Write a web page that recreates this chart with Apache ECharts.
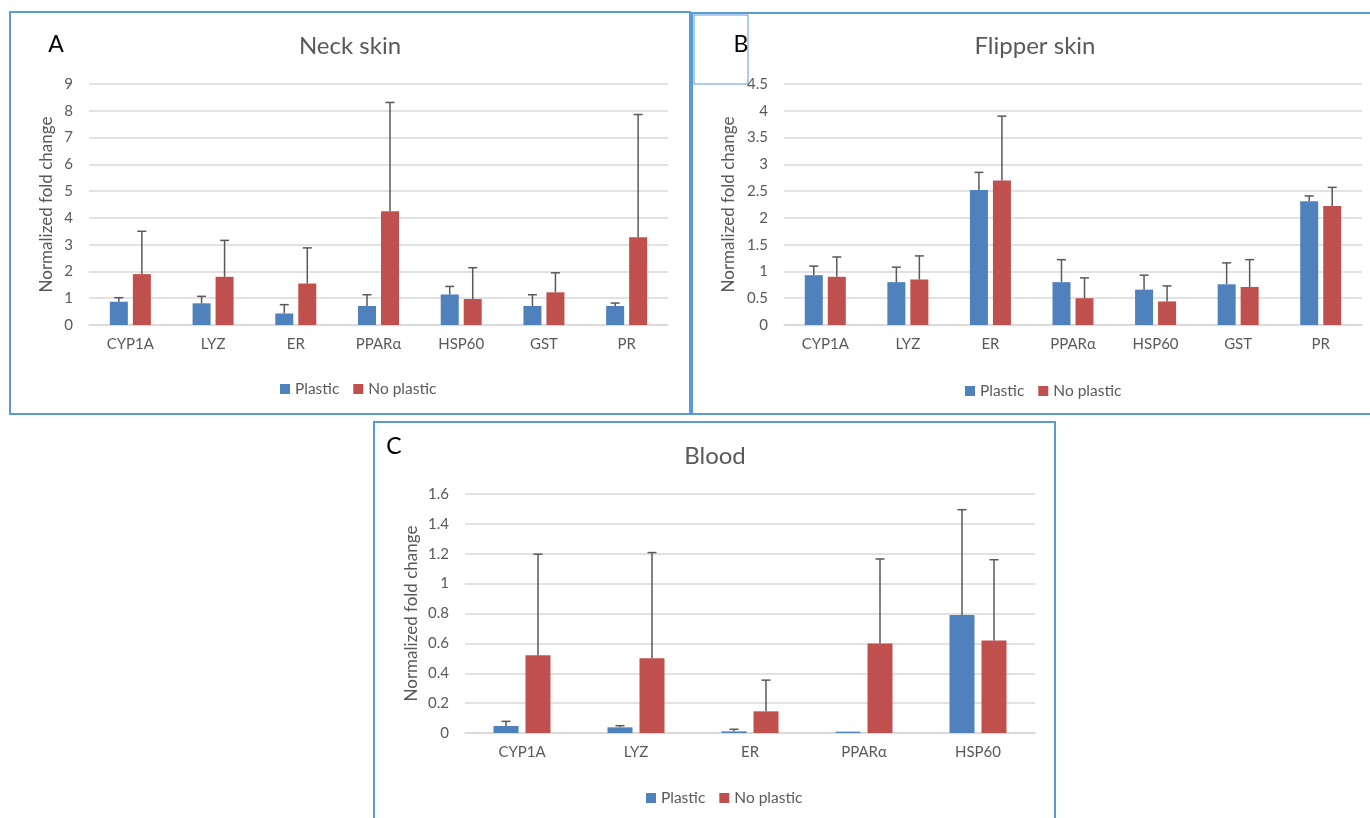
<!DOCTYPE html>
<html>
<head>
<meta charset="utf-8">
<script src="https://cdn.jsdelivr.net/npm/echarts@6/dist/echarts.min.js"></script>
<style>
html,body{margin:0;padding:0;background:#fff;}
#main{width:1370px;height:818px;}
</style>
</head>
<body>
<div id="main"></div>
<script>
// ---- Data ----
const skinCategories = ['CYP1A', 'LYZ', 'ER', 'PPARα', 'HSP60', 'GST', 'PR'];
const bloodCategories = ['CYP1A', 'LYZ', 'ER', 'PPARα', 'HSP60'];
const seriesNames = ['Plastic', 'No plastic'];

// Neck skin (A)
const neckPlastic = [0.87, 0.81, 0.43, 0.71, 1.14, 0.71, 0.71];
const neckPlasticErr = [0.15, 0.26, 0.33, 0.42, 0.30, 0.42, 0.11];
const neckNoPlastic = [1.90, 1.80, 1.55, 4.25, 0.97, 1.22, 3.28];
const neckNoPlasticErr = [1.60, 1.36, 1.33, 4.06, 1.17, 0.73, 4.58];

// Flipper skin (B)
const flipperPlastic = [0.93, 0.80, 2.52, 0.80, 0.66, 0.76, 2.31];
const flipperPlasticErr = [0.17, 0.28, 0.33, 0.42, 0.27, 0.40, 0.10];
const flipperNoPlastic = [0.90, 0.85, 2.70, 0.50, 0.44, 0.71, 2.22];
const flipperNoPlasticErr = [0.37, 0.44, 1.20, 0.38, 0.29, 0.51, 0.35];

// Blood (C)
const bloodPlastic = [0.047, 0.038, 0.011, 0.009, 0.79];
const bloodPlasticErr = [0.031, 0.011, 0.014, 0, 0.705];
const bloodNoPlastic = [0.52, 0.50, 0.145, 0.60, 0.62];
const bloodNoPlasticErr = [0.677, 0.708, 0.209, 0.565, 0.54];

// Axis settings
const neckAxis = {min: 0, max: 9, interval: 1};
const flipperAxis = {min: 0, max: 4.5, interval: 0.5};
const bloodAxis = {min: 0, max: 1.6, interval: 0.2};

const titles = ['Neck skin', 'Flipper skin', 'Blood'];
const panelLetters = ['A', 'B', 'C'];
const yName = 'Normalized fold change';

// ---- Styles ----
const BLUE = '#4F81BD';
const RED = '#C0504D';
const GREY = '#595959';
const GRID = '#D9D9D9';
const FONT = 'Lato, "Liberation Sans", sans-serif';

const panels = [
  {cats: skinCategories, p: neckPlastic, pe: neckPlasticErr, n: neckNoPlastic, ne: neckNoPlasticErr, axis: neckAxis,
   grid: {left: 89, top: 84, width: 579, height: 241}, barWidth: 18, gap: 5, nameGap: 34},
  {cats: skinCategories, p: flipperPlastic, pe: flipperPlasticErr, n: flipperNoPlastic, ne: flipperNoPlasticErr, axis: flipperAxis,
   grid: {left: 784, top: 84, width: 578, height: 241}, barWidth: 18, gap: 5, nameGap: 47},
  {cats: bloodCategories, p: bloodPlastic, pe: bloodPlasticErr, n: bloodNoPlastic, ne: bloodNoPlasticErr, axis: bloodAxis,
   grid: {left: 465, top: 494, width: 570, height: 239}, barWidth: 25, gap: 7, nameGap: 45}
];

const grids = [], xAxes = [], yAxes = [], series = [];
panels.forEach((pn, i) => {
  grids.push(Object.assign({containLabel: false}, pn.grid));
  xAxes.push({
    type: 'category', gridIndex: i, data: pn.cats,
    axisTick: {show: false},
    axisLine: {lineStyle: {color: GRID, width: 1.5}},
    axisLabel: {color: GREY, fontSize: 15, fontFamily: FONT, margin: 12}
  });
  yAxes.push({
    type: 'value', gridIndex: i, min: pn.axis.min, max: pn.axis.max, interval: pn.axis.interval,
    name: yName, nameLocation: 'middle', nameGap: pn.nameGap,
    nameTextStyle: {color: GREY, fontSize: 17, fontFamily: FONT},
    axisLine: {show: false}, axisTick: {show: false},
    axisLabel: {color: GREY, fontSize: 15, fontFamily: FONT, margin: 16},
    splitLine: {lineStyle: {color: GRID, width: 1.5}}
  });
  const off = (pn.barWidth + pn.gap) / 2;
  const barGap = (pn.gap / pn.barWidth * 100) + '%';
  [[pn.p, BLUE, seriesNames[0]], [pn.n, RED, seriesNames[1]]].forEach(([vals, color, name]) => {
    series.push({
      type: 'bar', name: name, xAxisIndex: i, yAxisIndex: i, data: vals,
      barWidth: pn.barWidth, barGap: barGap,
      itemStyle: {color: color}, z: 2, silent: true
    });
  });
  [[pn.p, pn.pe, -off], [pn.n, pn.ne, off]].forEach(([vals, errs, dx]) => {
    series.push({
      type: 'custom', name: 'err', xAxisIndex: i, yAxisIndex: i, z: 3, silent: true,
      data: vals.map((v, k) => [k, v, v + errs[k], errs[k]]),
      renderItem: function (params, api) {
        if (api.value(3) <= 0) return null;
        const base = api.coord([api.value(0), api.value(1)]);
        const top = api.coord([api.value(0), api.value(2)]);
        const x = base[0] + dx;
        const cap = 4.5;
        const st = {stroke: GREY, lineWidth: 1.5};
        return {
          type: 'group', children: [
            {type: 'line', shape: {x1: x, y1: base[1], x2: x, y2: top[1]}, style: st},
            {type: 'line', shape: {x1: x - cap, y1: top[1], x2: x + cap, y2: top[1]}, style: st}
          ]
        };
      }
    });
  });
});

const legendBase = {
  data: seriesNames, icon: 'rect', itemWidth: 10, itemHeight: 10, itemGap: 14, itemStyle: {borderWidth: 0},
  textStyle: {color: GREY, fontSize: 15.5, fontFamily: FONT}, selectedMode: false
};
const legends = [
  Object.assign({left: 275, top: 376}, legendBase),
  Object.assign({left: 960, top: 378}, legendBase),
  Object.assign({left: 641, top: 785}, legendBase)
];

const BORDER = '#5B9BD5';
const textG = (t, x, y, size, color) => ({
  type: 'text', x: x, y: y, z: 10,
  style: {text: t, x: 0, y: 0, textAlign: 'center', textVerticalAlign: 'middle', fill: color, fontSize: size, fontFamily: FONT}
});
const graphic = [
  {type: 'rect', shape: {x: 10, y: 12, width: 680, height: 402}, style: {fill: 'none', stroke: BORDER, lineWidth: 2}, z: 0},
  {type: 'rect', shape: {x: 692, y: 13, width: 690, height: 401}, style: {fill: 'none', stroke: BORDER, lineWidth: 2}, z: 0},
  {type: 'rect', shape: {x: 694, y: 15, width: 54, height: 69}, style: {fill: 'none', stroke: BORDER, lineWidth: 1}, z: 0},
  {type: 'rect', shape: {x: 374, y: 422, width: 681, height: 410}, style: {fill: '#fff', stroke: BORDER, lineWidth: 2}, z: 0},
  textG(titles[0], 350, 46, 24, GREY),
  textG(titles[1], 1035, 46, 24, GREY),
  textG(titles[2], 715, 456, 24, GREY),
  textG(panelLetters[0], 56, 45, 23, '#000'),
  textG(panelLetters[1], 741, 45, 23, '#000'),
  textG(panelLetters[2], 394, 447, 23, '#000')
];

const chart = echarts.init(document.getElementById('main'), null, {renderer: 'canvas'});
chart.setOption({
  animation: false,
  backgroundColor: '#fff',
  grid: grids, xAxis: xAxes, yAxis: yAxes, series: series,
  legend: legends, graphic: graphic
});
</script>
</body>
</html>
